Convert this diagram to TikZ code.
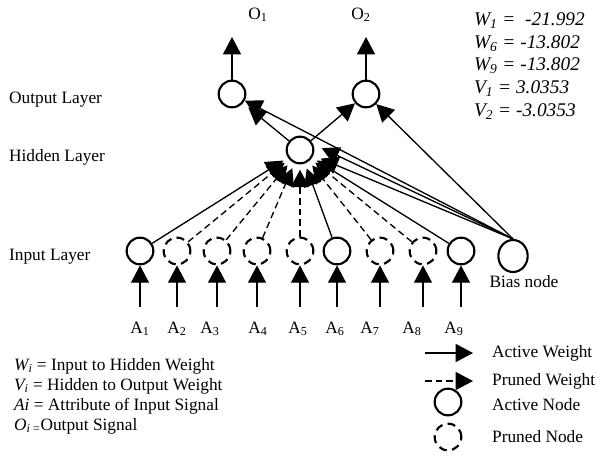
\documentclass[tikz,border=0pt]{standalone}
\usepackage{fontspec}
\setmainfont{Liberation Serif}
\usetikzlibrary{arrows.meta,shapes.geometric}

\begin{document}
\begin{tikzpicture}[x=0.75pt,y=-0.75pt,line width=1pt,
    >={Triangle[length=13pt,width=13.5pt]},
    font=\fontsize{13}{15}\selectfont,
    act/.style={draw,circle,line width=1.6pt,minimum size=20pt,inner sep=0pt},
    pru/.style={act,dash pattern=on 6pt off 4pt},
    pw/.style={->,dash pattern=on 5pt off 3pt}]
      \useasboundingbox (0,0) rectangle (598,459);
      % output and hidden layer
      \node[act] (o1) at (232,94) {}; \node[act] (o2) at (366,94) {};
      \node[act] (h) at (300,150) {};
      \coordinate (t1) at (232,37); \coordinate (t2) at (366,37);
      \node (lo1) at (258,15) {O\textsubscript{1}}; \node (lo2) at (361,15) {O\textsubscript{2}};
      % input layer
      \node[act] (n1) at (140,251) {}; \node[pru] (n2) at (177,251) {};
      \node[pru] (n3) at (217,251) {}; \node[pru] (n4) at (257,251) {};
      \node[pru] (n5) at (300,251) {}; \node[act] (n6) at (337,251) {};
      \node[pru] (n7) at (380,251) {}; \node[pru] (n8) at (423,251) {};
      \node[act] (n9) at (461,251) {};
      \node[act,ellipse,minimum width=22pt,minimum height=24pt] (b) at (513,256) {};
      \node (lb) at (524,282) {Bias node};
      \coordinate (s1) at (140,307); \coordinate (s2) at (177,307);
      \coordinate (s3) at (217,307); \coordinate (s4) at (257,307);
      \coordinate (s5) at (300,307); \coordinate (s6) at (337,307);
      \coordinate (s7) at (380,307); \coordinate (s8) at (423,307);
      \coordinate (s9) at (461,307);
      \node (a1) at (140,329) {A\textsubscript{1}}; \node (a2) at (177,329) {A\textsubscript{2}};
      \node (a3) at (210,329) {A\textsubscript{3}}; \node (a4) at (258,329) {A\textsubscript{4}};
      \node (a5) at (298,329) {A\textsubscript{5}}; \node (a6) at (335,329) {A\textsubscript{6}};
      \node (a7) at (370,329) {A\textsubscript{7}}; \node (a8) at (412,329) {A\textsubscript{8}};
      \node (a9) at (454,329) {A\textsubscript{9}};
      % signals in and out
      \draw[->] (o1) -- (t1); \draw[->] (o2) -- (t2);
      \draw[->] (s1) -- (n1); \draw[->] (s2) -- (n2); \draw[->] (s3) -- (n3);
      \draw[->] (s4) -- (n4); \draw[->] (s5) -- (n5); \draw[->] (s6) -- (n6);
      \draw[->] (s7) -- (n7); \draw[->] (s8) -- (n8); \draw[->] (s9) -- (n9);
      % weights
      \draw[->,shorten >=4pt] (n1) -- (h); \draw[pw,shorten >=4pt] (n2) -- (h);
      \draw[pw,shorten >=4pt] (n3) -- (h); \draw[pw,shorten >=4pt] (n4) -- (h);
      \draw[pw,shorten >=4pt] (n5) -- (h); \draw[->,shorten >=4pt] (n6) -- (h);
      \draw[pw,shorten >=4pt] (n7) -- (h); \draw[pw,shorten >=4pt] (n8) -- (h);
      \draw[->,shorten >=4pt] (n9) -- (h);
      \draw[->,shorten >=6pt] (b.north) -- (h);
      \draw[->,shorten >=6pt] (b.north) -- ([yshift=4pt]h.east);
      \draw[->,shorten >=5pt] (h) -- (o1); \draw[->] (h) -- (o2);
      \draw[->] (b.north) -- (o1); \draw[->] (b.north) -- (o2);
      % labels
      \node[anchor=west] (lol) at (4,100) {Output Layer};
      \node[anchor=west] (lhl) at (4,157) {Hidden Layer};
      \node[anchor=west] (lil) at (4,257) {Input Layer};
      \node[anchor=west,align=left,font=\itshape\fontsize{14.5}{17}\selectfont] (val) at (469,66)
        {W\textsubscript{1} = \ -21.992\\ W\textsubscript{6} = -13.802\\ W\textsubscript{9} = -13.802\\
         V\textsubscript{1} = 3.0353\\ V\textsubscript{2} = -3.0353};
      \node[anchor=west,align=left] (key) at (9,396)
        {\textit{W\textsubscript{i}} = Input to Hidden Weight\\ \textit{V\textsubscript{i}} = Hidden to Output Weight\\
         \textit{Ai} = Attribute of Input Signal\\ \textit{O}\textsubscript{\textit{i} =}Output Signal};
      % legend
      \coordinate (k1) at (425,353); \coordinate (k2) at (473,353);
      \coordinate (k3) at (425,381); \coordinate (k4) at (473,381);
      \draw[->] (k1) -- (k2); \draw[pw] (k3) -- (k4);
      \node[act] (ka) at (448,402) {}; \node[pru] (kp) at (448,437) {};
      \node[anchor=west] (la) at (487,353) {Active Weight};
      \node[anchor=west] (lp) at (487,381) {Pruned Weight};
      \node[anchor=west] (lan) at (487,405) {Active Node};
      \node[anchor=west] (lpn) at (487,437) {Pruned Node};
    \end{tikzpicture}
\end{document}
